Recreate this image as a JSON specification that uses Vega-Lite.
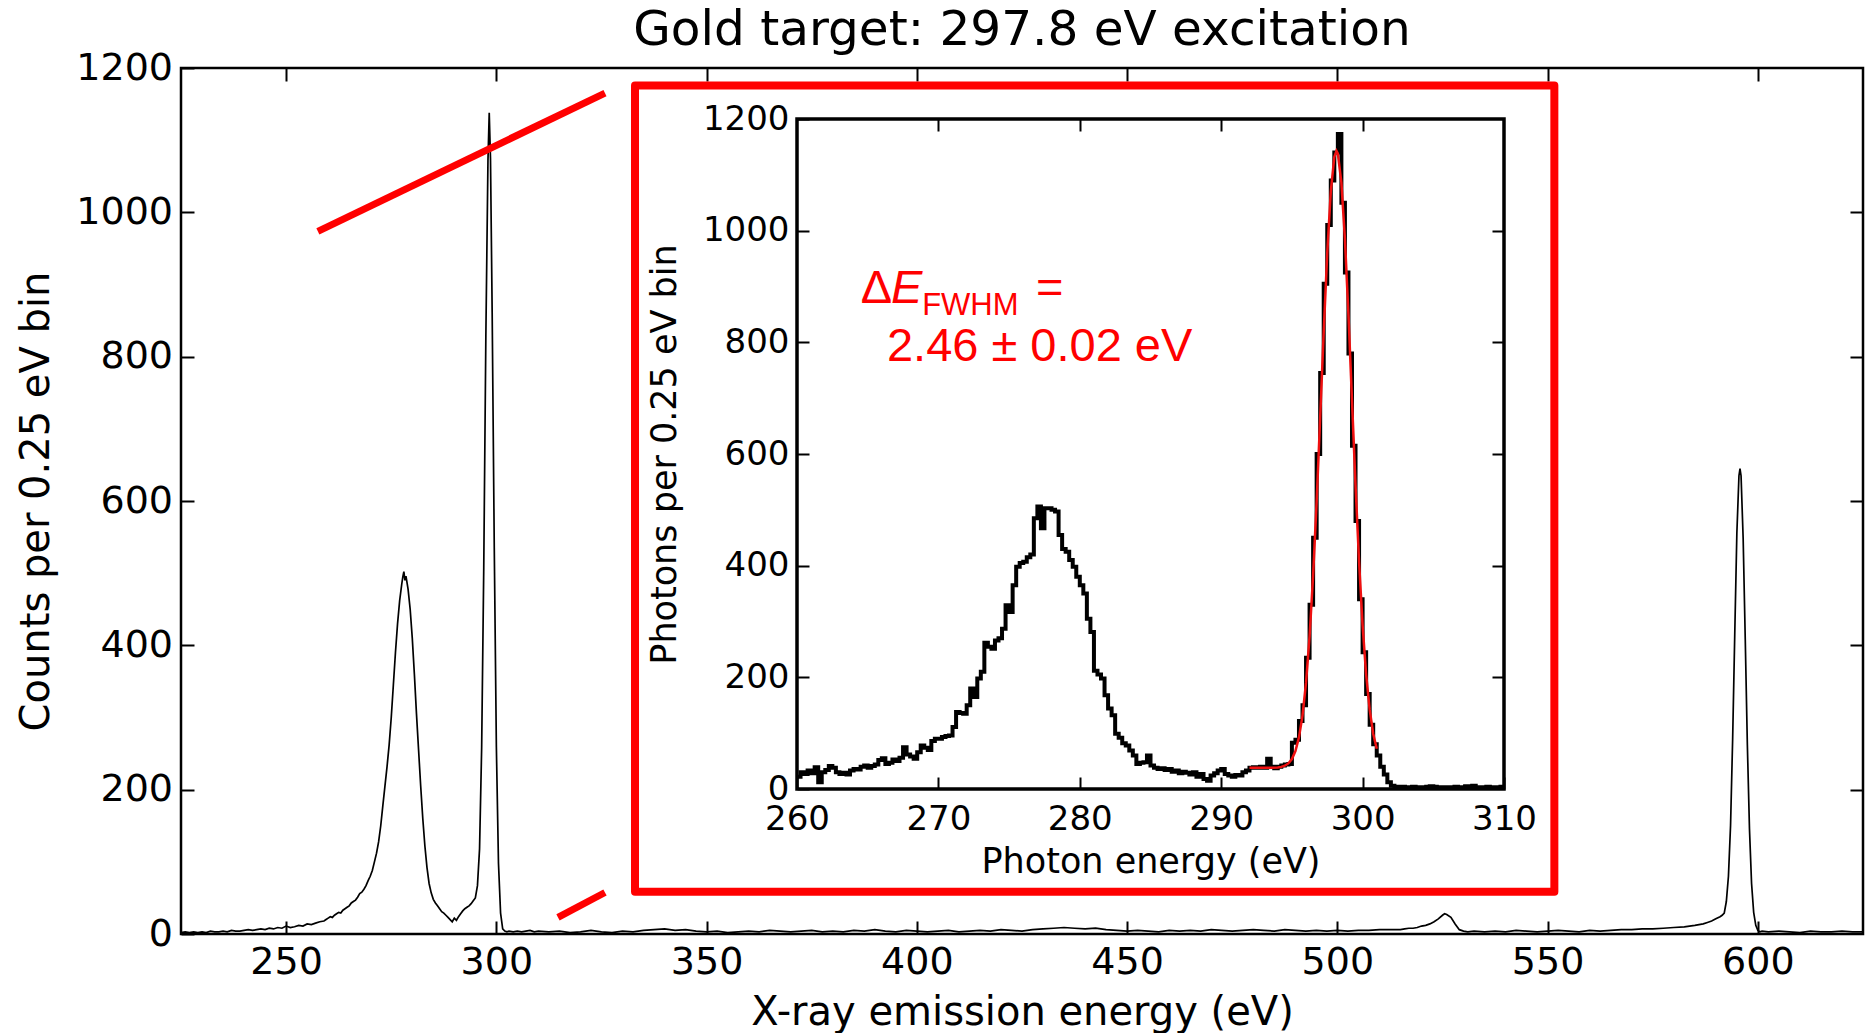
{
  "$schema": "https://vega.github.io/schema/vega-lite/v6.json",
  "width": 1682,
  "height": 866,
  "autosize": {"type": "none"},
  "padding": {"left": 181, "top": 68, "right": 3, "bottom": 99},
  "background": "white",
  "title": {"text": "Gold target: 297.8 eV excitation", "font": "DejaVu Sans", "fontSize": 48.5, "fontWeight": "normal", "color": "black", "baseline": "alphabetic", "offset": -44, "anchor": "middle", "frame": "group"},
  "config": {
    "view": {"stroke": "black", "strokeWidth": 2.5},
    "axis": {"grid": false, "domain": false, "tickColor": "black", "tickWidth": 2, "labelColor": "black", "titleColor": "black", "labelFont": "DejaVu Sans", "titleFont": "DejaVu Sans", "titleFontWeight": "normal", "labelFlush": false, "labelOverlap": false}
  },
  "datasets": {
    "main": [
      {"E":225,"c":2},{"E":226,"c":3},{"E":227,"c":2},{"E":228,"c":3},{"E":229,"c":2},{"E":230,"c":3},{"E":231,"c":2},{"E":232,"c":4},{"E":233,"c":3},{"E":234,"c":3},{"E":235,"c":4},{"E":236,"c":3},{"E":237,"c":5},{"E":238,"c":4},{"E":239,"c":4},{"E":240,"c":5},{"E":241,"c":6},{"E":242,"c":5},{"E":243,"c":6},{"E":244,"c":7},{"E":245,"c":6},{"E":246,"c":8},{"E":247,"c":7},{"E":248,"c":9},{"E":249,"c":8},{"E":250,"c":11},{"E":251,"c":9},{"E":252,"c":10},{"E":253,"c":12},{"E":254,"c":11},{"E":255,"c":14},{"E":256,"c":13},{"E":257,"c":15},{"E":258,"c":17},{"E":259,"c":18},{"E":259.5,"c":20},
      {"E":260,"c":22},{"E":260.5,"c":24},{"E":261,"c":23},{"E":261.5,"c":26},{"E":262,"c":28},{"E":262.5,"c":30},{"E":263,"c":29},{"E":263.5,"c":33},{"E":264,"c":35},{"E":264.5,"c":37},{"E":265,"c":39},{"E":265.5,"c":43},{"E":266,"c":45},{"E":266.5,"c":47},{"E":267,"c":51},{"E":267.5,"c":56},{"E":268,"c":58},{"E":268.5,"c":62},{"E":269,"c":67},{"E":269.5,"c":74},{"E":270,"c":80},{"E":270.5,"c":88},{"E":271,"c":100},{"E":271.5,"c":112},{"E":272,"c":128},{"E":272.5,"c":150},{"E":273,"c":178},{"E":273.5,"c":205},{"E":274,"c":232},{"E":274.5,"c":262},{"E":275,"c":300},{"E":275.5,"c":345},{"E":276,"c":390},{"E":276.5,"c":430},{"E":277,"c":462},{"E":277.5,"c":485},{"E":277.75,"c":495},{"E":278,"c":502},{"E":278.25,"c":490},{"E":278.5,"c":496},{"E":279,"c":478},{"E":279.5,"c":450},{"E":280,"c":410},{"E":280.5,"c":360},{"E":281,"c":305},{"E":281.5,"c":255},{"E":282,"c":205},{"E":282.5,"c":160},{"E":283,"c":122},{"E":283.5,"c":92},{"E":284,"c":70},{"E":284.5,"c":57},{"E":285,"c":48},{"E":285.5,"c":43},{"E":286,"c":39},{"E":286.5,"c":35},{"E":287,"c":31},{"E":287.5,"c":29},{"E":288,"c":26},{"E":288.5,"c":23},{"E":289,"c":20},{"E":289.5,"c":17},{"E":290,"c":22},{"E":290.5,"c":19},{"E":291,"c":24},{"E":291.5,"c":28},{"E":292,"c":32},{"E":292.5,"c":35},{"E":293,"c":37},{"E":293.5,"c":39},{"E":294,"c":42},{"E":294.5,"c":46},{"E":295,"c":50},{"E":295.5,"c":67},{"E":296,"c":118},{"E":296.5,"c":258},{"E":297,"c":508},{"E":297.5,"c":829},{"E":298,"c":1072},{"E":298.3,"c":1138},{"E":298.6,"c":1075},{"E":299,"c":861},{"E":299.5,"c":535},{"E":300,"c":259},{"E":300.5,"c":98},{"E":301,"c":29},{"E":301.5,"c":7},{"E":302,"c":4},
      {"E":302.5,"c":3},{"E":303,"c":4},{"E":304,"c":3},{"E":305,"c":4},{"E":306,"c":3},{"E":307,"c":4},{"E":308,"c":5},{"E":309,"c":3},{"E":310,"c":4},
      {"E":312.5,"c":3},{"E":315,"c":4},{"E":317.5,"c":2},{"E":320,"c":3},{"E":322.5,"c":5},{"E":325,"c":3},{"E":327.5,"c":2},{"E":330,"c":4},{"E":332.5,"c":3},{"E":335,"c":5},{"E":337.5,"c":6},{"E":340,"c":7},{"E":342.5,"c":5},{"E":345,"c":6},{"E":347.5,"c":4},{"E":350,"c":3},{"E":352.5,"c":4},{"E":355,"c":2},{"E":357.5,"c":3},{"E":360,"c":4},{"E":362.5,"c":3},{"E":365,"c":5},{"E":367.5,"c":4},{"E":370,"c":3},{"E":372.5,"c":4},{"E":375,"c":5},{"E":377.5,"c":3},{"E":380,"c":4},{"E":382.5,"c":3},{"E":385,"c":5},{"E":387.5,"c":4},{"E":390,"c":6},{"E":392.5,"c":4},{"E":395,"c":3},{"E":397.5,"c":5},{"E":400,"c":4},{"E":402.5,"c":3},{"E":405,"c":4},{"E":407.5,"c":5},{"E":410,"c":3},{"E":412.5,"c":4},{"E":415,"c":5},{"E":417.5,"c":4},{"E":420,"c":6},{"E":422.5,"c":5},{"E":425,"c":4},{"E":427.5,"c":6},{"E":430,"c":7},{"E":432.5,"c":8},{"E":435,"c":9},{"E":437.5,"c":8},{"E":440,"c":7},{"E":442.5,"c":8},{"E":445,"c":6},{"E":447.5,"c":5},{"E":450,"c":4},{"E":452.5,"c":5},{"E":455,"c":4},{"E":457.5,"c":3},{"E":460,"c":5},{"E":462.5,"c":4},{"E":465,"c":5},{"E":467.5,"c":4},{"E":470,"c":6},{"E":472.5,"c":5},{"E":475,"c":4},{"E":477.5,"c":5},{"E":480,"c":6},{"E":482.5,"c":5},{"E":485,"c":4},{"E":487.5,"c":6},{"E":490,"c":5},{"E":492.5,"c":4},{"E":495,"c":5},{"E":497.5,"c":4},{"E":500,"c":5},{"E":502.5,"c":4},{"E":505,"c":5},{"E":507.5,"c":5},{"E":510,"c":6},{"E":512.5,"c":6},
      {"E":515,"c":6},{"E":516,"c":7},{"E":517,"c":8},{"E":518,"c":8},{"E":519,"c":9},{"E":520,"c":11},{"E":521,"c":12},{"E":522,"c":14},{"E":523,"c":17},{"E":524,"c":21},{"E":525,"c":26},{"E":525.5,"c":28},{"E":526,"c":27},{"E":527,"c":23},{"E":528,"c":14},{"E":529,"c":6},{"E":530,"c":4},{"E":531,"c":3},
      {"E":532.5,"c":4},{"E":535,"c":3},{"E":537.5,"c":4},{"E":540,"c":3},{"E":542.5,"c":5},{"E":545,"c":4},{"E":547.5,"c":3},{"E":550,"c":4},{"E":552.5,"c":5},{"E":555,"c":4},{"E":557.5,"c":3},{"E":560,"c":5},{"E":562.5,"c":4},{"E":565,"c":5},{"E":567.5,"c":6},{"E":570,"c":6},{"E":572.5,"c":7},{"E":575,"c":7},{"E":577.5,"c":8},{"E":580,"c":9},{"E":582.5,"c":10},{"E":585,"c":12},
      {"E":586,"c":13},{"E":587,"c":14},{"E":588,"c":16},{"E":589,"c":18},{"E":590,"c":21},{"E":591,"c":24},{"E":591.5,"c":26},{"E":592,"c":29},{"E":592.5,"c":45},{"E":593,"c":80},{"E":593.5,"c":150},{"E":594,"c":270},{"E":594.5,"c":415},{"E":595,"c":555},{"E":595.5,"c":635},{"E":595.75,"c":645},{"E":596,"c":635},{"E":596.5,"c":548},{"E":597,"c":408},{"E":597.5,"c":262},{"E":598,"c":146},{"E":598.5,"c":70},{"E":599,"c":30},{"E":599.5,"c":12},{"E":600,"c":5},{"E":600.5,"c":3},{"E":601,"c":4},
      {"E":602.5,"c":3},{"E":605,"c":4},{"E":607.5,"c":3},{"E":610,"c":2},{"E":612.5,"c":4},{"E":615,"c":3},{"E":617.5,"c":3},{"E":620,"c":4},{"E":622.5,"c":3},{"E":625,"c":3}
    ],
    "inset": [
      {"E":260,"c":22},{"E":260.25,"c":30},{"E":260.5,"c":27},{"E":260.75,"c":33},{"E":261,"c":28},{"E":261.25,"c":39},{"E":261.5,"c":12},{"E":261.75,"c":30},{"E":262,"c":34},{"E":262.25,"c":41},{"E":262.5,"c":38},{"E":262.75,"c":30},{"E":263,"c":27},{"E":263.25,"c":29},{"E":263.5,"c":26},{"E":263.75,"c":33},{"E":264,"c":36},{"E":264.25,"c":35},{"E":264.5,"c":40},{"E":264.75,"c":42},{"E":265,"c":38},{"E":265.25,"c":41},{"E":265.5,"c":44},{"E":265.75,"c":52},{"E":266,"c":55},{"E":266.25,"c":45},{"E":266.5,"c":47},{"E":266.75,"c":53},{"E":267,"c":50},{"E":267.25,"c":56},{"E":267.5,"c":75},{"E":267.75,"c":62},{"E":268,"c":58},{"E":268.25,"c":54},{"E":268.5,"c":66},{"E":268.75,"c":78},{"E":269,"c":74},{"E":269.25,"c":70},{"E":269.5,"c":86},{"E":269.75,"c":90},
      {"E":270,"c":90},{"E":270.25,"c":93},{"E":270.5,"c":95},{"E":270.75,"c":96},{"E":271,"c":111},{"E":271.25,"c":138},{"E":271.5,"c":136},{"E":271.75,"c":135},{"E":272,"c":150},{"E":272.25,"c":180},{"E":272.5,"c":165},{"E":272.75,"c":198},{"E":273,"c":210},{"E":273.25,"c":262},{"E":273.5,"c":255},{"E":273.75,"c":251},{"E":274,"c":266},{"E":274.25,"c":270},{"E":274.5,"c":287},{"E":274.75,"c":329},{"E":275,"c":317},{"E":275.25,"c":365},{"E":275.5,"c":398},{"E":275.75,"c":405},{"E":276,"c":407},{"E":276.25,"c":415},{"E":276.5,"c":420},{"E":276.75,"c":485},{"E":277,"c":506},{"E":277.25,"c":467},{"E":277.5,"c":503},{"E":277.75,"c":503},{"E":278,"c":500},{"E":278.25,"c":497},{"E":278.5,"c":455},{"E":278.75,"c":430},{"E":279,"c":425},{"E":279.25,"c":410},{"E":279.5,"c":398},{"E":279.75,"c":380},
      {"E":280,"c":365},{"E":280.25,"c":350},{"E":280.5,"c":305},{"E":280.75,"c":281},{"E":281,"c":212},{"E":281.25,"c":205},{"E":281.5,"c":198},{"E":281.75,"c":168},{"E":282,"c":144},{"E":282.25,"c":132},{"E":282.5,"c":99},{"E":282.75,"c":92},{"E":283,"c":82},{"E":283.25,"c":78},{"E":283.5,"c":69},{"E":283.75,"c":60},{"E":284,"c":45},{"E":284.25,"c":47},{"E":284.5,"c":48},{"E":284.75,"c":60},{"E":285,"c":42},{"E":285.25,"c":38},{"E":285.5,"c":36},{"E":285.75,"c":37},{"E":286,"c":34},{"E":286.25,"c":36},{"E":286.5,"c":31},{"E":286.75,"c":33},{"E":287,"c":28},{"E":287.25,"c":31},{"E":287.5,"c":29},{"E":287.75,"c":26},{"E":288,"c":30},{"E":288.25,"c":22},{"E":288.5,"c":27},{"E":288.75,"c":18},{"E":289,"c":15},{"E":289.25,"c":24},{"E":289.5,"c":28},{"E":289.75,"c":33},
      {"E":290,"c":36},{"E":290.25,"c":27},{"E":290.5,"c":24},{"E":290.75,"c":22},{"E":291,"c":25},{"E":291.25,"c":24},{"E":291.5,"c":30},{"E":291.75,"c":33},{"E":292,"c":38},{"E":292.25,"c":39},{"E":292.5,"c":38},{"E":292.75,"c":40},{"E":293,"c":38},{"E":293.25,"c":54},{"E":293.5,"c":40},{"E":293.75,"c":37},{"E":294,"c":40},{"E":294.25,"c":42},{"E":294.5,"c":44},{"E":294.75,"c":45},{"E":295,"c":83},{"E":295.25,"c":88},{"E":295.5,"c":122},{"E":295.75,"c":150},{"E":296,"c":235},{"E":296.25,"c":330},{"E":296.5,"c":450},{"E":296.75,"c":600},{"E":297,"c":745},{"E":297.25,"c":905},{"E":297.5,"c":1010},{"E":297.75,"c":1090},{"E":298,"c":1140},{"E":298.25,"c":1173},{"E":298.5,"c":1050},{"E":298.75,"c":925},{"E":299,"c":780},{"E":299.25,"c":615},{"E":299.5,"c":480},{"E":299.75,"c":340},
      {"E":300,"c":245},{"E":300.25,"c":170},{"E":300.5,"c":115},{"E":300.75,"c":80},{"E":301,"c":60},{"E":301.25,"c":40},{"E":301.5,"c":26},{"E":301.75,"c":12},{"E":302,"c":6},{"E":302.25,"c":4},{"E":302.5,"c":3},{"E":302.75,"c":4},{"E":303,"c":2},{"E":303.25,"c":3},{"E":303.5,"c":4},{"E":303.75,"c":3},{"E":304,"c":2},{"E":304.25,"c":3},{"E":304.5,"c":4},{"E":304.75,"c":5},{"E":305,"c":4},{"E":305.25,"c":3},{"E":305.5,"c":2},{"E":305.75,"c":3},{"E":306,"c":3},{"E":306.25,"c":2},{"E":306.5,"c":4},{"E":306.75,"c":3},{"E":307,"c":3},{"E":307.25,"c":5},{"E":307.5,"c":4},{"E":307.75,"c":6},{"E":308,"c":3},{"E":308.25,"c":2},{"E":308.5,"c":3},{"E":308.75,"c":4},{"E":309,"c":3},{"E":309.25,"c":2},{"E":309.5,"c":3},{"E":309.75,"c":4},{"E":310,"c":4}
    ],
    "fit": [
      {"E":292,"f":38},{"E":292.5,"f":38},{"E":293,"f":38},{"E":293.5,"f":38},{"E":294,"f":38.7},{"E":294.25,"f":39.6},{"E":294.5,"f":41.7},{"E":294.75,"f":45.8},{"E":295,"f":53.7},{"E":295.25,"f":68},{"E":295.5,"f":92.5},{"E":295.75,"f":131.5},{"E":296,"f":190.4},{"E":296.25,"f":273.2},{"E":296.5,"f":382},{"E":296.75,"f":515},{"E":297,"f":665},{"E":297.25,"f":819},{"E":297.5,"f":960},{"E":297.75,"f":1070},{"E":298,"f":1132},{"E":298.15,"f":1143},{"E":298.25,"f":1138},{"E":298.5,"f":1086},{"E":298.75,"f":985},{"E":299,"f":849},{"E":299.25,"f":696},{"E":299.5,"f":544},{"E":299.75,"f":407},{"E":300,"f":293},{"E":300.25,"f":205},{"E":300.5,"f":142},{"E":300.75,"f":99},{"E":301,"f":72}
    ]
  },
  "layer": [
    {
      "layer": [
        {
          "data": {"name": "main"},
          "mark": {"type": "line", "color": "black", "strokeWidth": 1.7},
          "encoding": {
            "x": {"field": "E", "type": "quantitative", "scale": {"domain": [225, 625], "nice": false, "zero": false},
                  "axis": {"orient": "bottom", "values": [250,300,350,400,450,500,550,600], "format": "d", "title": "X-ray emission energy (eV)", "tickSize": -13, "labelPadding": 22.6, "labelFontSize": 38, "titleFontSize": 40, "titlePadding": 11}},
            "y": {"field": "c", "type": "quantitative", "scale": {"domain": [0, 1200], "nice": false, "zero": false},
                  "axis": {"orient": "left", "values": [0,200,400,600,800,1000,1200], "format": "d", "title": "Counts per 0.25 eV bin", "tickSize": -13, "labelPadding": 21.5, "labelFontSize": 38, "titleFontSize": 40, "titlePadding": 19}}
          }
        },
        {
          "data": {"values": [{}]},
          "mark": {"type": "rect", "fill": "white", "stroke": "#ff0000", "strokeWidth": 8, "strokeJoin": "round"},
          "encoding": {
            "x": {"datum": 332.97, "type": "quantitative", "scale": {"domain": [225, 625], "nice": false, "zero": false},
                  "axis": {"orient": "top", "values": [250,300,350,400,450,500,550,600], "labels": false, "title": null, "tickSize": -13, "minExtent": 0, "maxExtent": 0}},
            "x2": {"datum": 551.6},
            "y": {"datum": 1175.6, "type": "quantitative", "scale": {"domain": [0, 1200], "nice": false, "zero": false},
                  "axis": {"orient": "right", "values": [200,400,600,800,1000], "labels": false, "title": null, "tickSize": -13}},
            "y2": {"datum": 58.5}
          }
        },
        {
          "data": {"values": [{}]},
          "mark": {"type": "rule", "color": "#ff0000", "strokeWidth": 7},
          "encoding": {
            "x": {"datum": 257.55, "type": "quantitative", "axis": null},
            "y": {"datum": 973.7, "type": "quantitative", "axis": null},
            "x2": {"datum": 325.83},
            "y2": {"datum": 1165.3}
          }
        },
        {
          "data": {"values": [{}]},
          "mark": {"type": "rule", "color": "#ff0000", "strokeWidth": 7},
          "encoding": {
            "x": {"datum": 314.65, "type": "quantitative", "axis": null},
            "y": {"datum": 23.1, "type": "quantitative", "axis": null},
            "x2": {"datum": 325.83},
            "y2": {"datum": 57.5}
          }
        }
      ],
      "resolve": {"axis": {"x": "independent", "y": "independent"}}
    },
    {
      "layer": [
        {
          "data": {"values": [{}]},
          "mark": {"type": "rect", "filled": false, "stroke": "black", "strokeWidth": 3.5},
          "encoding": {
            "x": {"datum": 260, "type": "quantitative", "scale": {"domain": [260, 310], "range": [616, 1323], "nice": false, "zero": false},
                  "axis": {"orient": "top", "offset": -51, "values": [270,280,290,300], "labels": false, "title": null, "tickSize": -12, "zindex": 1, "minExtent": 0, "maxExtent": 0}},
            "x2": {"datum": 310},
            "y": {"datum": 0, "type": "quantitative", "scale": {"domain": [0, 1200], "range": [721, 51], "nice": false, "zero": false},
                  "axis": {"orient": "right", "offset": -359, "values": [200,400,600,800,1000], "labels": false, "title": null, "tickSize": -12, "zindex": 1}},
            "y2": {"datum": 1200}
          }
        },
        {
          "data": {"name": "inset"},
          "mark": {"type": "line", "color": "black", "strokeWidth": 4, "interpolate": "step-after"},
          "encoding": {
            "x": {"field": "E", "type": "quantitative", "scale": {"domain": [260, 310], "range": [616, 1323], "nice": false, "zero": false},
                  "axis": {"orient": "bottom", "offset": -145, "values": [260,270,280,290,300,310], "format": "d", "title": "Photon energy (eV)", "tickSize": -12, "labelPadding": 25.5, "labelFontSize": 34, "titleFontSize": 35, "titlePadding": 7.5, "zindex": 1}},
            "y": {"field": "c", "type": "quantitative", "scale": {"domain": [0, 1200], "range": [721, 51], "nice": false, "zero": false},
                  "axis": {"orient": "left", "offset": -616, "values": [0,200,400,600,800,1000,1200], "format": "d", "title": "Photons per 0.25 eV bin", "tickSize": -12, "labelPadding": 20, "labelFontSize": 34, "titleFontSize": 35, "titlePadding": 19.5, "zindex": 1}}
          }
        },
        {
          "data": {"name": "fit"},
          "mark": {"type": "line", "color": "#f01010", "strokeWidth": 2.5},
          "encoding": {
            "x": {"field": "E", "type": "quantitative", "axis": null},
            "y": {"field": "f", "type": "quantitative", "axis": null}
          }
        },
        {
          "data": {"values": [{}]},
          "mark": {"type": "text", "text": "Δ", "font": "Liberation Sans", "fontSize": 47, "color": "#ff0000", "align": "left", "baseline": "alphabetic"},
          "encoding": {"x": {"datum": 264.5, "type": "quantitative", "axis": null}, "y": {"datum": 870.1, "type": "quantitative", "axis": null}}
        },
        {
          "data": {"values": [{}]},
          "mark": {"type": "text", "text": "E", "font": "Liberation Sans", "fontStyle": "italic", "fontSize": 47, "color": "#ff0000", "align": "left", "baseline": "alphabetic"},
          "encoding": {"x": {"datum": 266.65, "type": "quantitative", "axis": null}, "y": {"datum": 870.1, "type": "quantitative", "axis": null}}
        },
        {
          "data": {"values": [{}]},
          "mark": {"type": "text", "text": "FWHM", "font": "Liberation Sans", "fontSize": 31, "color": "#ff0000", "align": "left", "baseline": "alphabetic"},
          "encoding": {"x": {"datum": 268.85, "type": "quantitative", "axis": null}, "y": {"datum": 849.2, "type": "quantitative", "axis": null}}
        },
        {
          "data": {"values": [{}]},
          "mark": {"type": "text", "text": "=", "font": "Liberation Sans", "fontSize": 47, "color": "#ff0000", "align": "left", "baseline": "alphabetic"},
          "encoding": {"x": {"datum": 276.9, "type": "quantitative", "axis": null}, "y": {"datum": 870.1, "type": "quantitative", "axis": null}}
        },
        {
          "data": {"values": [{}]},
          "mark": {"type": "text", "text": "2.46 ± 0.02 eV", "font": "Liberation Sans", "fontSize": 47, "color": "#ff0000", "align": "left", "baseline": "alphabetic"},
          "encoding": {"x": {"datum": 266.36, "type": "quantitative", "axis": null}, "y": {"datum": 767.3, "type": "quantitative", "axis": null}}
        }
      ],
      "resolve": {"axis": {"x": "independent", "y": "independent"}}
    }
  ],
  "resolve": {"scale": {"x": "independent", "y": "independent"}}
}
